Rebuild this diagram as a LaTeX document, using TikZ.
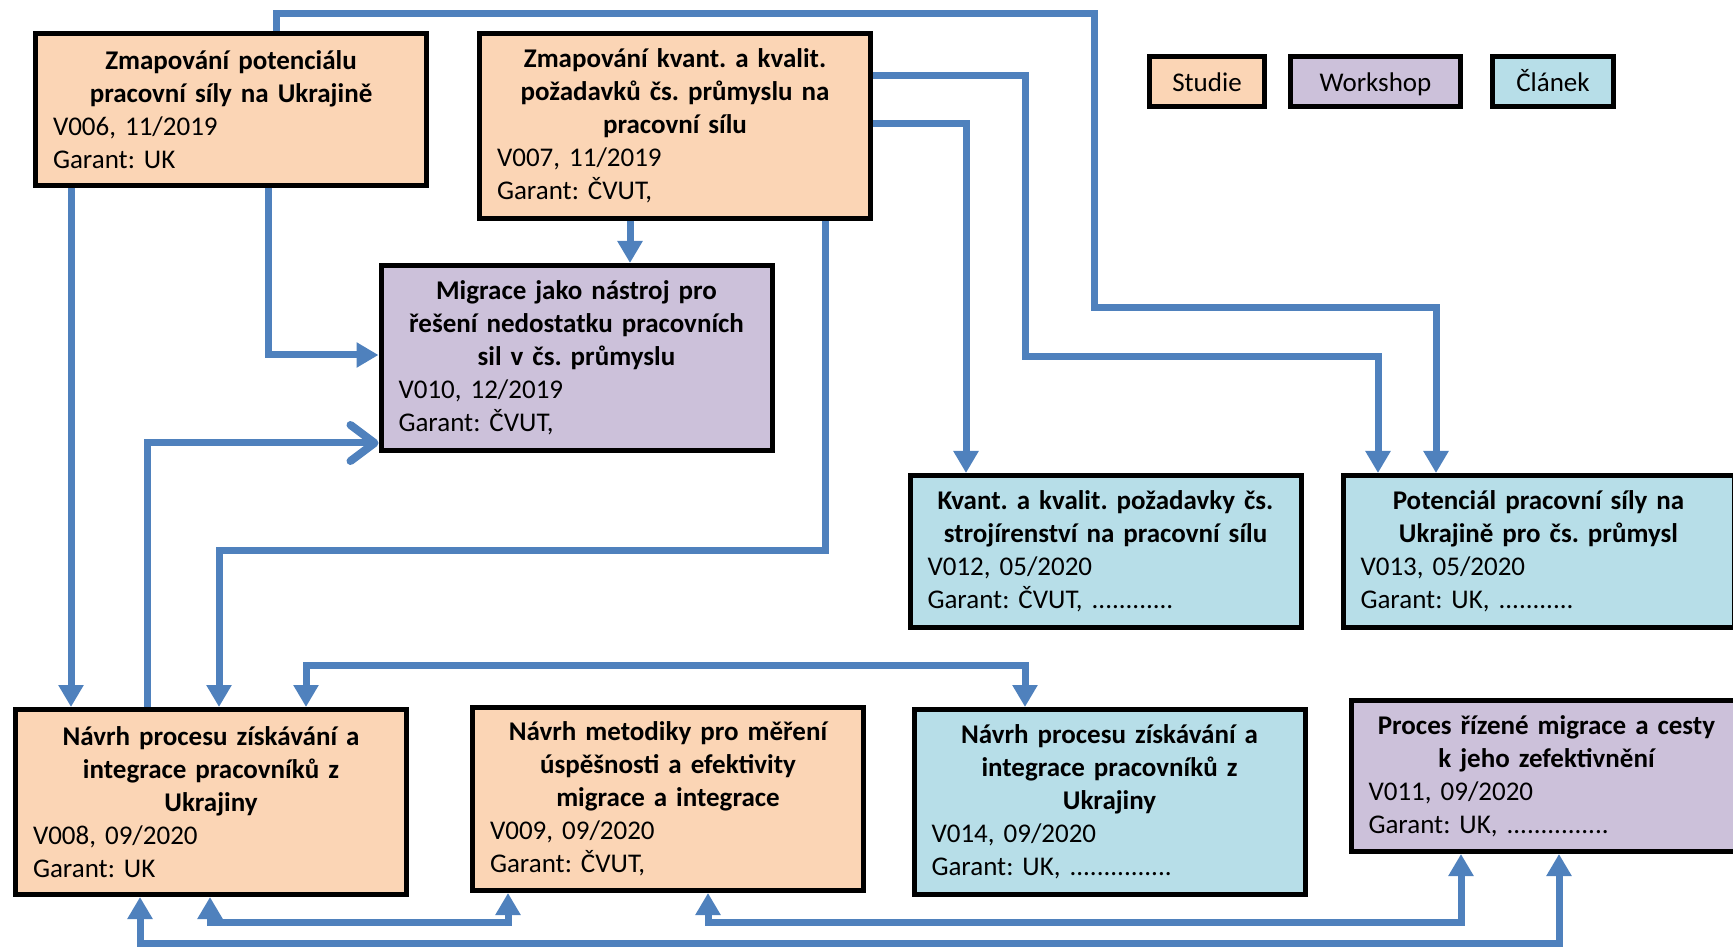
\documentclass[tikz,border=0pt]{standalone}
\usepackage{fontspec}
\setmainfont{Carlito}
\usetikzlibrary{arrows.meta}
\definecolor{studie}{RGB}{251,213,181}
\definecolor{workshop}{RGB}{204,193,218}
\definecolor{clanek}{RGB}{183,222,232}
\definecolor{cblue}{RGB}{79,129,189}
\newcommand\ttlines[1]{{\centering\bfseries #1\par}}
\frenchspacing
\begin{document}
\begin{tikzpicture}[x=1pt,y=-1pt,
  box/.style={draw=black, line width=5pt, inner xsep=17.5pt, inner ysep=3pt,
    text width=356pt, align=left, font=\fontsize{27}{33}\selectfont\frenchspacing},
  legend/.style={draw=black, line width=5pt, inner sep=0pt, minimum height=50pt,
    text height=21pt, text depth=0pt, font=\fontsize{27}{33}\selectfont},
  conn/.style={draw=cblue, line width=7pt},
  >={Triangle[width=24pt,length=22pt]}]
\useasboundingbox (0,0) rectangle (1733,949);
\clip (0,0) rectangle (1733,949);

% boxes
\node[box, fill=studie, minimum height=152pt] (A) at (231,109.5)
  {\ttlines{Zmapování potenciálu\\pracovní síly na Ukrajině}V006, 11/2019\\Garant: UK};
\node[box, fill=studie, minimum height=185pt] (B) at (675,126)
  {\ttlines{Zmapování kvant. a kvalit.\\požadavků čs. průmyslu na\\pracovní sílu}V007, 11/2019\\Garant: ČVUT,};
\node[box, fill=workshop, minimum height=185pt] (C) at (576.5,358)
  {\ttlines{Migrace jako nástroj pro\\řešení nedostatku pracovních\\sil v čs. průmyslu}V010, 12/2019\\Garant: ČVUT,};
\node[box, fill=clanek, minimum height=152pt] (D) at (1105.5,551.5)
  {\ttlines{Kvant. a kvalit. požadavky čs.\\strojírenství na pracovní sílu}V012, 05/2020\\Garant: ČVUT, ............};
\node[box, fill=clanek, minimum height=152pt] (E) at (1538.5,551.5)
  {\ttlines{Potenciál pracovní síly na\\Ukrajině pro čs. průmysl}V013, 05/2020\\Garant: UK, ...........};
\node[box, fill=studie, minimum height=185pt] (F) at (211,802)
  {\ttlines{Návrh procesu získávání a\\integrace pracovníků z\\Ukrajiny}V008, 09/2020\\Garant: UK};
\node[box, fill=studie, minimum height=183pt] (G) at (668,799)
  {\ttlines{Návrh metodiky pro měření\\úspěšnosti a efektivity\\migrace a integrace}V009, 09/2020\\Garant: ČVUT,};
\node[box, fill=clanek, minimum height=185pt] (H) at (1109.5,802)
  {\ttlines{Návrh procesu získávání a\\integrace pracovníků z\\Ukrajiny}V014, 09/2020\\Garant: UK, ...............};
\node[box, fill=workshop, minimum height=151pt] (I) at (1546.5,776)
  {\ttlines{Proces řízené migrace a cesty\\k jeho zefektivnění}V011, 09/2020\\Garant: UK, ...............};

% legend
\node[legend, fill=studie, minimum width=115pt] (L1) at (1207,81.5) {Studie};
\node[legend, fill=workshop, minimum width=170pt] (L2) at (1375.5,81.5) {Workshop};
\node[legend, fill=clanek, minimum width=121pt] (L3) at (1553,81.5) {Článek};

% bend coordinates
\coordinate (k1) at (276,14);
\coordinate (e1) at (1436,308);
\coordinate (b1) at (1025,76);
\coordinate (e2) at (1378,357);
\coordinate (b2) at (966,124);
\coordinate (b3) at (630,0);
\coordinate (a2) at (268,355);
\coordinate (a3) at (71,0);
\coordinate (f1) at (147,443);
\coordinate (b4) at (825,550);
\coordinate (f2) at (219,550);
\coordinate (f3) at (306,665);
\coordinate (h1) at (1025,665);
\coordinate (f4) at (210,922);
\coordinate (g1) at (508,922);
\coordinate (g2) at (708,922);
\coordinate (i1) at (1461,922);
\coordinate (f5) at (140,943);
\coordinate (i2) at (1559,943);

% connectors
\draw[conn,->] (A.north -| k1) -- (k1) -- (1094,14) -- (1094,308) -- (e1) -- (E.north -| e1);
\draw[conn,->] (B.east |- b1) -- (b1) -- (1025,357) -- (e2) -- (E.north -| e2);
\draw[conn,->] (B.east |- b2) -- (b2) -- (D.north -| b2);
\draw[conn,->] (B.south -| b3) -- (C.north -| b3);
\draw[conn,->] (A.south -| a2) -- (a2) -- (C.west |- a2);
\draw[conn,->] (A.south -| a3) -- (F.north -| a3);
\draw[conn,-{Straight Barb[length=24pt,width=36pt,line width=8pt,round]}] (F.north -| f1) -- (f1) -- (C.west |- f1);
\draw[conn,->] (B.south -| b4) -- (b4) -- (f2) -- (F.north -| f2);
\draw[conn,<->] (F.north -| f3) -- (f3) -- (h1) -- (H.north -| h1);
\draw[conn,<->] (F.south -| f4) -- (f4) -- (g1) -- (G.south -| g1);
\draw[conn,<->] (G.south -| g2) -- (g2) -- (i1) -- (I.south -| i1);
\draw[conn,<->] (F.south -| f5) -- (f5) -- (i2) -- (I.south -| i2);
\end{tikzpicture}
\end{document}
